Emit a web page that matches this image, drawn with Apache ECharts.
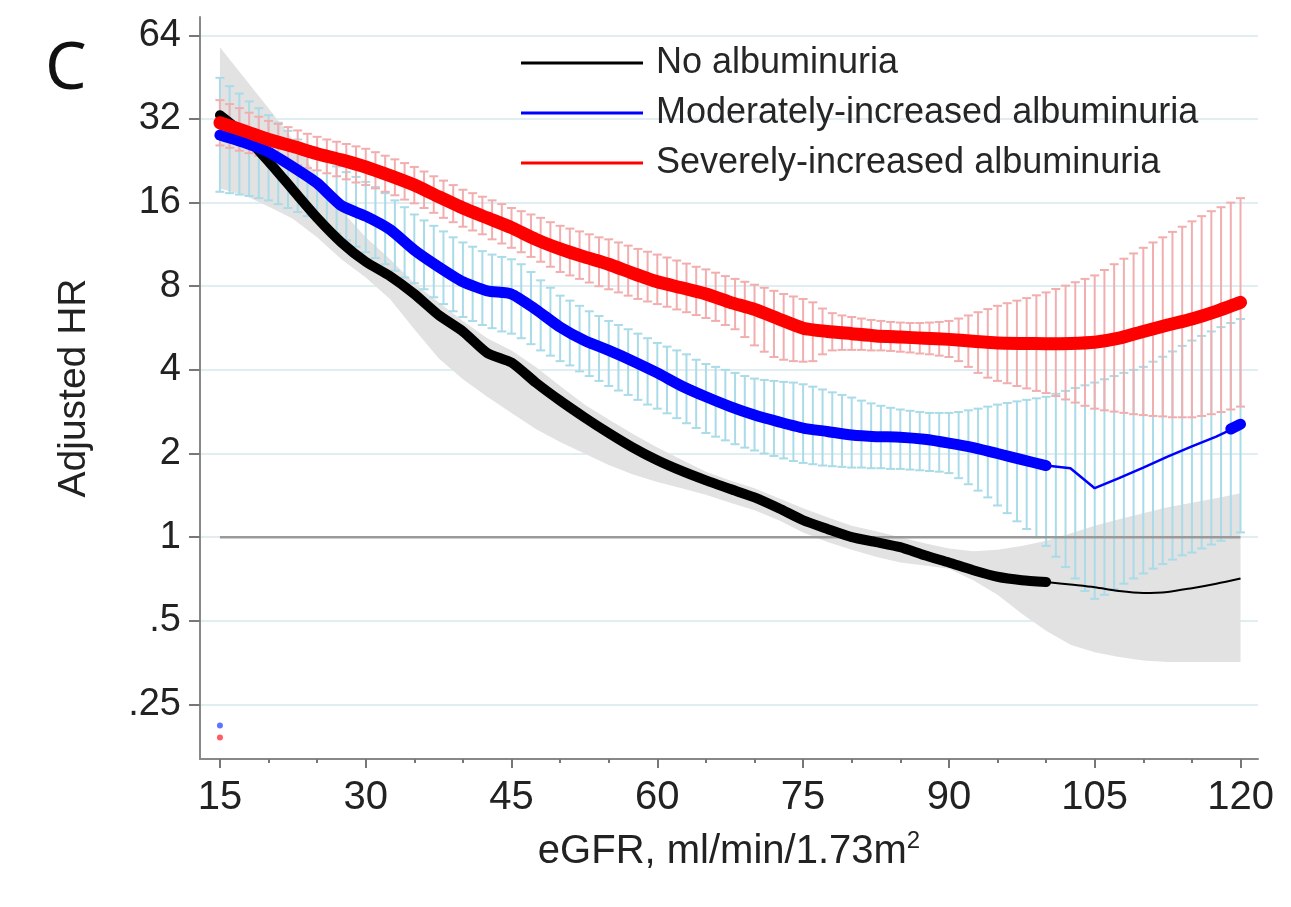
<!DOCTYPE html>
<html>
<head>
<meta charset="utf-8">
<title>Adjusted HR by eGFR</title>
<script src="https://cdn.jsdelivr.net/npm/echarts@6/dist/echarts.min.js"></script>
<style>
  html, body { margin: 0; padding: 0; background: #fff; }
  #chart { width: 1291px; height: 907px; }
</style>
</head>
<body>
<div id="chart"></div>
<script>
// axis ticks
const xTicks = [15, 30, 45, 60, 75, 90, 105, 120];
const xMinorTicks = [20, 25, 35, 40, 50, 55, 65, 70, 80, 85, 95, 100, 110, 115];
const yTicks = [0.25, 0.5, 1, 2, 4, 8, 16, 32, 64];

// point estimates (eGFR every 2.5)
const lineX = [15, 17.5, 20, 22.5, 25, 27.5, 30, 32.5, 35, 37.5, 40, 42.5, 45, 47.5, 50, 52.5, 55, 57.5, 60, 62.5,
  65, 67.5, 70, 72.5, 75, 77.5, 80, 82.5, 85, 87.5, 90, 92.5, 95, 97.5, 100, 102.5, 105, 107.5, 110, 112.5, 115, 117.5, 120];
const noAlb = [33, 28, 22.5, 17.8, 14.1, 11.5, 9.8, 8.7, 7.5, 6.3, 5.5, 4.6, 4.25, 3.6, 3.1, 2.7, 2.37, 2.1, 1.89, 1.73,
  1.6, 1.49, 1.39, 1.27, 1.15, 1.07, 1.0, 0.96, 0.92, 0.86, 0.81, 0.76, 0.72, 0.70, 0.69, 0.675, 0.66, 0.64, 0.63, 0.635, 0.655, 0.68, 0.71];
const modAlb = [28, 26.3, 24.3, 21.5, 18.8, 15.6, 14.3, 12.8, 10.8, 9.4, 8.3, 7.7, 7.5, 6.6, 5.7, 5.1, 4.7, 4.3, 3.9, 3.5,
  3.2, 2.95, 2.75, 2.6, 2.47, 2.4, 2.33, 2.3, 2.29, 2.25, 2.18, 2.1, 2.0, 1.9, 1.81, 1.77, 1.5, 1.63, 1.78, 1.95, 2.12, 2.3, 2.53];
const sevAlb = [31, 29, 27, 25.5, 24, 22.8, 21.5, 20, 18.5, 16.8, 15.3, 14.1, 13.0, 11.8, 10.9, 10.2, 9.6, 8.9, 8.3, 7.9,
  7.5, 7.0, 6.6, 6.1, 5.65, 5.5, 5.4, 5.3, 5.25, 5.2, 5.15, 5.07, 5.0, 4.98, 4.97, 4.98, 5.03, 5.2, 5.5, 5.8, 6.1, 6.5, 7.0];

// confidence band for no albuminuria
const bandUpper = [58, 45, 35, 27, 20, 15, 12, 10, 8.2, 7.0, 6.0, 5.2, 4.7, 4.1, 3.5, 3.0, 2.65, 2.35, 2.1, 1.9,
  1.72, 1.6, 1.5, 1.38, 1.27, 1.18, 1.1, 1.05, 1.0, 0.95, 0.91, 0.89, 0.9, 0.93, 0.97, 1.03, 1.1, 1.16, 1.22, 1.28, 1.33, 1.38, 1.44];
const bandLower = [18, 17, 15.5, 14, 12, 10, 8.6, 7.2, 5.6, 4.4, 3.7, 3.2, 2.8, 2.45, 2.2, 2.0, 1.82, 1.68, 1.58, 1.5,
  1.42, 1.33, 1.25, 1.15, 1.04, 0.96, 0.9, 0.85, 0.81, 0.79, 0.77, 0.7, 0.62, 0.53, 0.46, 0.41, 0.385, 0.37, 0.36, 0.355, 0.355, 0.355, 0.355];

// error bars (eGFR every 1)
const barX = [15, 16, 17, 18, 19, 20, 21, 22, 23, 24, 25, 26, 27, 28, 29, 30, 31, 32, 33, 34, 35, 36, 37, 38, 39, 40,
  41, 42, 43, 44, 45, 46, 47, 48, 49, 50, 51, 52, 53, 54, 55, 56, 57, 58, 59, 60, 61, 62, 63, 64, 65, 66, 67, 68, 69, 70,
  71, 72, 73, 74, 75, 76, 77, 78, 79, 80, 81, 82, 83, 84, 85, 86, 87, 88, 89, 90, 91, 92, 93, 94, 95, 96, 97, 98, 99, 100,
  101, 102, 103, 104, 105, 106, 107, 108, 109, 110, 111, 112, 113, 114, 115, 116, 117, 118, 119, 120];
const modHi = [45, 42, 39.5, 37, 35, 33, 31, 29, 27, 25.5, 24, 22.8, 21.6, 20.6, 19.8, 19, 18.2, 17.3, 16.3, 15.4, 14.5, 13.8, 13.2, 12.6, 12.0, 11.5,
  11.1, 10.7, 10.4, 10.2, 10.0, 9.6, 9.0, 8.4, 7.9, 7.4, 7.1, 6.8, 6.5, 6.25, 6.0, 5.8, 5.6, 5.4, 5.2, 5.0, 4.85, 4.7, 4.55, 4.35, 4.2, 4.1, 4.0, 3.9, 3.8, 3.72,
  3.68, 3.65, 3.62, 3.6, 3.55, 3.48, 3.4, 3.32, 3.25, 3.18, 3.1, 3.03, 2.97, 2.92, 2.88, 2.85, 2.82, 2.8, 2.8, 2.8, 2.82, 2.86, 2.9, 2.95, 3.0, 3.04, 3.08, 3.12, 3.16, 3.2,
  3.28, 3.36, 3.44, 3.52, 3.6, 3.7, 3.8, 3.9, 4.0, 4.1, 4.28, 4.46, 4.66, 4.88, 5.1, 5.3, 5.5, 5.7, 5.9, 6.1];
const modLo = [17.5, 17.3, 17.1, 16.9, 16.6, 16.3, 15.8, 15.3, 14.8, 14.3, 13.8, 13.1, 12.4, 11.7, 11.1, 10.6, 10.1, 9.6, 9.1, 8.6, 8.2, 7.8, 7.3, 6.9, 6.5, 6.2,
  6.0, 5.8, 5.65, 5.5, 5.4, 5.2, 4.95, 4.7, 4.5, 4.3, 4.15, 3.95, 3.8, 3.65, 3.5, 3.37, 3.25, 3.12, 3.0, 2.9, 2.79, 2.68, 2.57, 2.47, 2.37, 2.3, 2.23, 2.16, 2.1, 2.05,
  2.0, 1.96, 1.92, 1.88, 1.85, 1.83, 1.81, 1.8, 1.79, 1.78, 1.78, 1.77, 1.77, 1.76, 1.76, 1.75, 1.74, 1.73, 1.72, 1.7, 1.63, 1.55, 1.47, 1.39, 1.3, 1.22, 1.14, 1.07, 1.0, 0.93,
  0.85, 0.78, 0.71, 0.64, 0.6, 0.62, 0.65, 0.68, 0.71, 0.74, 0.77, 0.8, 0.83, 0.86, 0.88, 0.91, 0.94, 0.97, 1.0, 1.04];
const sevHi = [37.4, 36.2, 35, 33.7, 32.6, 31.5, 30.7, 29.9, 29.1, 28.3, 27.6, 27, 26.5, 26, 25.5, 25, 24.3, 23.6, 22.9, 22.2, 21.5, 20.7, 19.9, 19.2, 18.5, 17.8,
  17.3, 16.8, 16.3, 15.8, 15.3, 14.9, 14.5, 14.1, 13.6, 13.2, 12.9, 12.6, 12.3, 12.0, 11.8, 11.5, 11.2, 10.9, 10.65, 10.4, 10.15, 9.9, 9.65, 9.4, 9.2, 8.95, 8.7, 8.5, 8.3, 8.1,
  7.9, 7.7, 7.5, 7.35, 7.2, 7.0, 6.65, 6.4, 6.28, 6.2, 6.12, 6.05, 6.0, 5.95, 5.92, 5.9, 5.9, 5.92, 5.95, 6.0, 6.12, 6.28, 6.45, 6.62, 6.8, 6.95, 7.1, 7.25, 7.42, 7.6,
  7.82, 8.04, 8.27, 8.5, 8.75, 9.15, 9.6, 10.05, 10.5, 11.0, 11.5, 12.0, 12.55, 13.1, 13.7, 14.3, 14.9, 15.4, 16.0, 16.6];
const sevLo = [25.7, 25.2, 24.6, 24.1, 23.6, 23.1, 22.7, 22.2, 21.8, 21.3, 20.9, 20.4, 19.9, 19.4, 18.9, 18.5, 18.0, 17.5, 17.0, 16.4, 15.9, 15.3, 14.7, 14.1, 13.6, 13.1,
  12.7, 12.3, 11.8, 11.4, 11.0, 10.6, 10.2, 9.8, 9.4, 9.0, 8.75, 8.5, 8.25, 8.0, 7.8, 7.6, 7.4, 7.2, 7.05, 6.9, 6.75, 6.6, 6.45, 6.3, 6.15, 6.0, 5.8, 5.6, 5.25, 4.9,
  4.65, 4.45, 4.35, 4.3, 4.28, 4.3, 4.55, 4.7, 4.72, 4.72, 4.72, 4.7, 4.7, 4.68, 4.65, 4.62, 4.58, 4.55, 4.5, 4.45, 4.3, 4.1, 3.9, 3.75, 3.65, 3.58, 3.5, 3.43, 3.36, 3.3,
  3.22, 3.13, 3.05, 2.97, 2.9, 2.86, 2.83, 2.8, 2.77, 2.75, 2.73, 2.72, 2.7, 2.7, 2.7, 2.73, 2.77, 2.82, 2.88, 2.95];

// blue end blob, reference line at HR = 1, stray marks at bottom left
const blueEndX = [119, 120];
const blueEnd = [2.45, 2.55];
const refX = [15, 120];
const refY = [1, 1];
const strayBlue = [[15, 0.21]];
const strayRed = [[15, 0.19]];

const FONT = '"Liberation Sans", Arial, sans-serif';

function pairs(xs, ys) {
  return xs.map((x, i) => [x, ys[i]]);
}
const thickPart = (xs, ys) => pairs(xs, ys).filter(p => p[0] <= 100);
const thinPart = (xs, ys) => pairs(xs, ys).filter(p => p[0] >= 100);

function renderBand(params, api) {
  if (params.dataIndex > 0) return null;
  const top = lineX.map((x, i) => api.coord([x, bandUpper[i]]));
  const bottom = lineX.map((x, i) => api.coord([x, bandLower[i]])).reverse();
  return {
    type: 'polygon',
    shape: { points: top.concat(bottom) },
    style: { fill: '#e2e2e2' }
  };
}

function barRenderer(color) {
  return function (params, api) {
    const x = api.value(0);
    const lo = api.coord([x, api.value(1)]);
    const hi = api.coord([x, api.value(2)]);
    const half = 4.5;
    const style = { stroke: color, lineWidth: 2, fill: null };
    return {
      type: 'group',
      children: [
        { type: 'line', shape: { x1: lo[0], y1: lo[1], x2: hi[0], y2: hi[1] }, style },
        { type: 'line', shape: { x1: hi[0] - half, y1: hi[1], x2: hi[0] + half, y2: hi[1] }, style },
        { type: 'line', shape: { x1: lo[0] - half, y1: lo[1], x2: lo[0] + half, y2: lo[1] }, style }
      ]
    };
  };
}

const chart = echarts.init(document.getElementById('chart'));

const option = {
  backgroundColor: '#fff',
  animation: false,
  textStyle: { fontFamily: FONT },
  title: {
    text: 'C',
    left: 40,
    top: 32,
    textStyle: { fontFamily: '"Noto Sans", sans-serif', fontSize: 66, fontWeight: 'normal', color: '#111' }
  },
  legend: {
    orient: 'vertical',
    left: 516,
    top: 40,
    itemWidth: 122,
    itemHeight: 3,
    itemGap: 14,
    icon: 'rect',
    data: ['No albuminuria', 'Moderately-increased albuminuria', 'Severely-increased albuminuria'],
    textStyle: { fontSize: 36, color: '#262626', padding: [0, 0, 0, 8] }
  },
  grid: { left: 200, right: 33, top: 17, bottom: 148 },
  xAxis: [
    {
      type: 'value',
      min: 12.95,
      max: 121.8,
      name: 'eGFR, ml/min/1.73m{sup|2}',
      nameLocation: 'middle',
      nameGap: 70,
      nameTextStyle: {
        fontSize: 40,
        color: '#222',
        rich: { sup: { fontSize: 24, verticalAlign: 'top', padding: [0, 0, 22, 0], color: '#222' } }
      },
      axisLine: { show: true, lineStyle: { color: '#888', width: 2 } },
      axisTick: { show: true, length: 9, customValues: xTicks, lineStyle: { color: '#777', width: 2 } },
      axisLabel: { customValues: xTicks, fontSize: 40, color: '#222', margin: 19 },
      splitLine: { show: false }
    },
    {
      type: 'value',
      position: 'bottom',
      min: 12.95,
      max: 121.8,
      axisLine: { show: false },
      axisTick: { show: true, length: 4, customValues: xMinorTicks, lineStyle: { color: '#777', width: 2 } },
      axisLabel: { show: false },
      splitLine: { show: false }
    }
  ],
  yAxis: {
    type: 'log',
    logBase: 2,
    min: 0.159,
    max: 74.5,
    name: 'Adjusted HR',
    nameLocation: 'middle',
    nameGap: 106,
    nameTextStyle: { fontSize: 39, color: '#222' },
    axisLine: { show: true, lineStyle: { color: '#888', width: 2 } },
    axisTick: { show: true, length: 11, customValues: yTicks, lineStyle: { color: '#777', width: 2 } },
    axisLabel: {
      customValues: yTicks,
      fontSize: 38,
      color: '#222',
      margin: 19,
      formatter: v => String(v).replace(/^0\./, '.')
    },
    splitLine: { show: true, lineStyle: { color: '#e1eef1', width: 2 } }
  },
  series: [
    {
      name: 'band',
      type: 'custom',
      renderItem: renderBand,
      data: [[lineX[0], bandUpper[0]]],
      encode: { x: 0, y: 1 },
      silent: true,
      z: 1
    },
    {
      name: 'modCI',
      type: 'custom',
      renderItem: barRenderer('#a9dbe8'),
      data: barX.map((x, i) => [x, modLo[i], modHi[i]]),
      encode: { x: 0, y: [1, 2] },
      silent: true,
      z: 2
    },
    {
      name: 'sevCI',
      type: 'custom',
      renderItem: barRenderer('#f2aeae'),
      data: barX.map((x, i) => [x, sevLo[i], sevHi[i]]),
      encode: { x: 0, y: [1, 2] },
      silent: true,
      z: 3
    },
    {
      name: 'ref',
      type: 'line',
      data: pairs(refX, refY),
      symbol: 'none',
      lineStyle: { color: '#9a9a9a', width: 2.5 },
      z: 4
    },
    {
      name: 'No albuminuria',
      type: 'line',
      data: thickPart(lineX, noAlb),
      symbol: 'none',
      smooth: 0.2,
      color: '#000',
      lineStyle: { color: '#000', width: 10, cap: 'round', join: 'round' },
      z: 5
    },
    {
      name: 'noThin',
      type: 'line',
      data: thinPart(lineX, noAlb),
      symbol: 'none',
      smooth: 0.3,
      lineStyle: { color: '#000', width: 2 },
      z: 5
    },
    {
      name: 'Moderately-increased albuminuria',
      type: 'line',
      data: thickPart(lineX, modAlb),
      symbol: 'none',
      smooth: 0.2,
      color: '#0000ff',
      lineStyle: { color: '#0000ff', width: 11, cap: 'round', join: 'round' },
      z: 6
    },
    {
      name: 'modThin',
      type: 'line',
      data: thinPart(lineX, modAlb),
      symbol: 'none',
      lineStyle: { color: '#0000ff', width: 2.5 },
      z: 6
    },
    {
      name: 'modEnd',
      type: 'line',
      data: pairs(blueEndX, blueEnd),
      symbol: 'none',
      lineStyle: { color: '#0000ff', width: 11, cap: 'round' },
      z: 6
    },
    {
      name: 'Severely-increased albuminuria',
      type: 'line',
      data: pairs(lineX, sevAlb),
      symbol: 'none',
      smooth: 0.2,
      color: '#ff0000',
      lineStyle: { color: '#ff0000', width: 13, cap: 'round', join: 'round' },
      z: 7
    },
    {
      name: 'strayBlue',
      type: 'scatter',
      data: strayBlue,
      symbolSize: 6,
      itemStyle: { color: '#3355ff' },
      z: 7
    },
    {
      name: 'strayRed',
      type: 'scatter',
      data: strayRed,
      symbolSize: 6,
      itemStyle: { color: '#ff3344' },
      z: 7
    }
  ]
};

chart.setOption(option);
</script>
</body>
</html>
